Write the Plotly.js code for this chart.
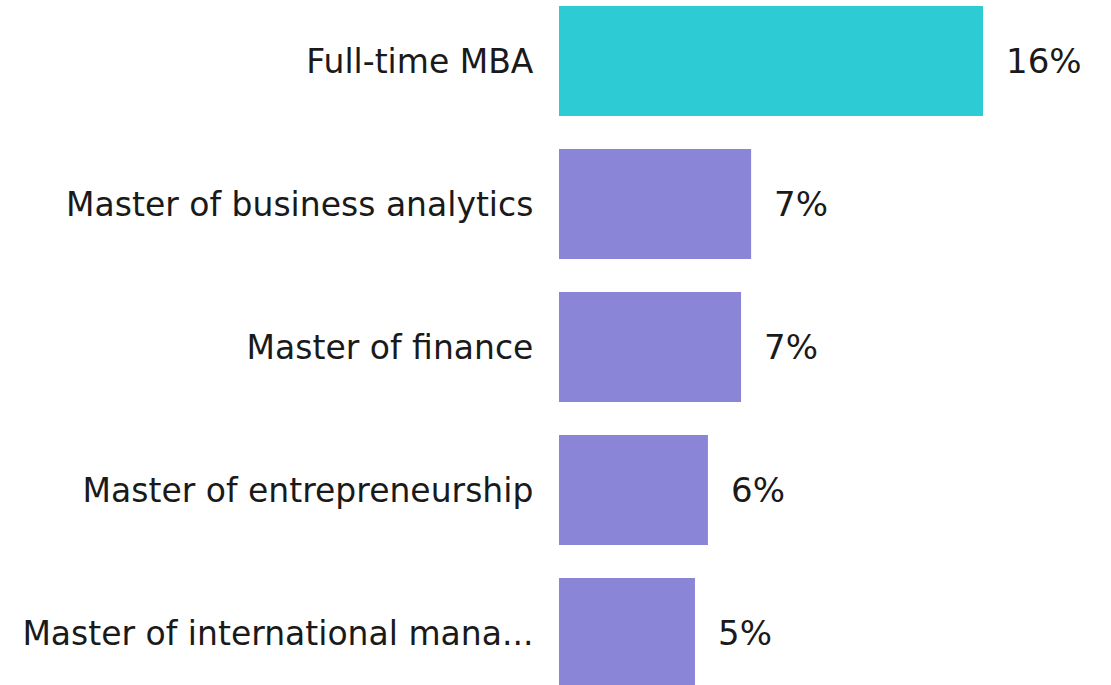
<!DOCTYPE html>
<html>
<head>
<meta charset="utf-8">
<script src="https://cdn.plot.ly/plotly-3.0.1.min.js"></script>
<style>html,body{margin:0;padding:0;background:#fff;}#chart{width:1111px;height:685px;}</style>
</head>
<body>
<div id="chart"></div>
<script>
const categories = ["Full-time MBA", "Master of business analytics", "Master of finance", "Master of entrepreneurship", "Master of international mana..."];
const values = [16.0, 7.25, 6.87, 5.62, 5.13];
const barColors = ["#2dcbd3", "#8b85d7", "#8b85d7", "#8b85d7", "#8b85d7"];
const valueLabels = values.map(v => Math.round(v) + "%");

const fontFam = "DejaVu Sans, Verdana, sans-serif";

const trace = {
  type: "bar",
  orientation: "h",
  y: categories,
  x: values,
  marker: {color: barColors},
  hoverinfo: "none"
};

const annotations = categories.map((c, i) => ({
  x: values[i], y: c, xref: "x", yref: "y",
  text: valueLabels[i], showarrow: false,
  xanchor: "left", yanchor: "middle", xshift: 21,
  font: {family: fontFam, size: 34, color: "#1a1a1a"}
}));

const layout = {
  width: 1111, height: 685,
  margin: {l: 559, r: 0, t: 0, b: 0, pad: 0},
  paper_bgcolor: "#ffffff", plot_bgcolor: "#ffffff",
  bargap: 0.23,
  showlegend: false,
  xaxis: {range: [0, 20.83], visible: false, fixedrange: true},
  yaxis: {
    type: "category",
    range: [4.364, -0.4266],
    autorange: false,
    showgrid: false, zeroline: false, showline: false,
    ticks: "outside", ticklen: 18, tickcolor: "rgba(0,0,0,0)",
    tickfont: {family: fontFam, size: 33, color: "#1a1a1a"},
    automargin: false
  },
  annotations: annotations
};

Plotly.newPlot("chart", [trace], layout, {displayModeBar: false, staticPlot: true});
</script>
</body>
</html>
